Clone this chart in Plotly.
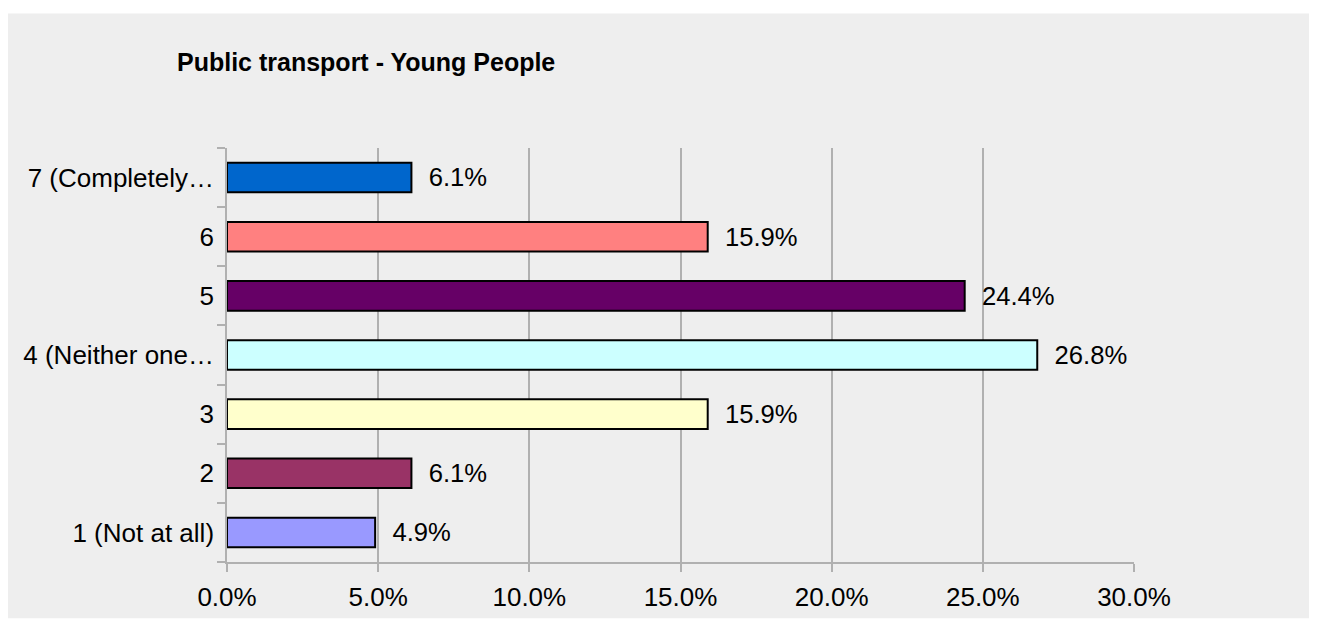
import plotly.graph_objects as go

categories = ["1 (Not at all)", "2", "3", "4 (Neither one…", "5", "6", "7 (Completely…"]
values = [0.049, 0.061, 0.159, 0.268, 0.244, 0.159, 0.061]
colors = ["#9999FF", "#993366", "#FFFFCC", "#CCFFFF", "#660066", "#FF8080", "#0066CC"]
x_ticks = [0, 0.05, 0.10, 0.15, 0.20, 0.25, 0.30]
title_text = "Public transport - Young People"

# page has an 8px body margin; figure coordinates below are page - 8
W, H = 1303, 616
L, R, T, B = 219, 1303 - 1126, 140, 616 - 559
pw, ph = W - L - R, H - T - B

FONT = "Liberation Sans, Arial, sans-serif"

fig = go.Figure()
fig.add_trace(go.Bar(
    x=values, y=categories, orientation="h",
    marker=dict(color=colors, line=dict(color="black", width=2)),
    width=0.5,
    texttemplate="\u00a0\u00a0%{x:.1%}",
    textposition="outside",
    textfont=dict(family=FONT, size=26, color="black"),
    cliponaxis=False,
    showlegend=False,
))

# gray background panel
fig.add_shape(type="rect", xref="paper", yref="paper", layer="below",
              x0=-L / pw, x1=(W - L) / pw,
              y0=-B / ph, y1=(H - B - 4) / ph,
              fillcolor="#eeeeee", line=dict(width=0))

fig.update_layout(
    width=W, height=H,
    margin=dict(l=L, r=R, t=T, b=B, pad=0),
    paper_bgcolor="white",
    plot_bgcolor="rgba(0,0,0,0)",
    title=dict(text=title_text, x=169 / W, xref="container", xanchor="left",
               y=1 - 54.5 / H, yref="container", yanchor="middle",
               font=dict(family=FONT, size=25, color="black", weight="bold")),
    xaxis=dict(range=[0, 0.30], tickvals=x_ticks, tickformat=".1%",
               showgrid=True, gridcolor="#b0b0b0", gridwidth=1.5,
               showline=True, linecolor="#b0b0b0", linewidth=1.5,
               ticks="outside", ticklen=8, tickcolor="#b0b0b0", tickwidth=1.5,
               ticklabelstandoff=3,
               tickfont=dict(family=FONT, size=26, color="black"),
               zeroline=False, fixedrange=True),
    yaxis=dict(categoryorder="array", categoryarray=categories,
               showline=True, linecolor="#b0b0b0", linewidth=1.5,
               ticks="outside", ticklen=8, tickcolor="#b0b0b0", tickwidth=1.5,
               tickson="boundaries", ticklabelstandoff=6,
               tickfont=dict(family=FONT, size=26, color="black"),
               showgrid=False, zeroline=False, fixedrange=True),
    bargap=0.5,
)

fig.write_html("out.html")
